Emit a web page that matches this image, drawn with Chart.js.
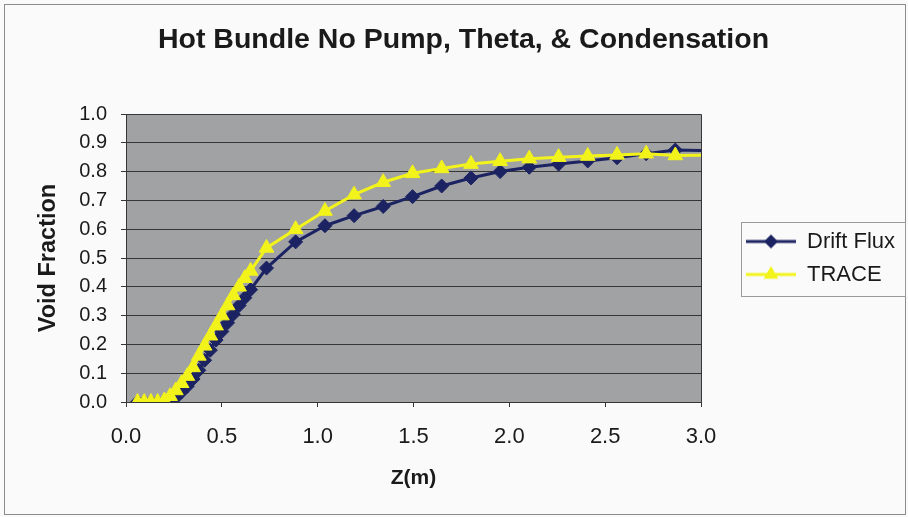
<!DOCTYPE html>
<html>
<head>
<meta charset="utf-8">
<script src="https://cdn.jsdelivr.net/npm/chart.js@4/dist/chart.umd.min.js"></script>
<style>
  html, body { margin: 0; padding: 0; background: #fafafa; }
  #wrap { width: 908px; height: 517px; position: relative; }
</style>
</head>
<body>
<div id="wrap"><canvas id="c" width="908" height="517"></canvas></div>
<script>
// ---- data ----
const zPositions = [0.06, 0.095, 0.13, 0.165, 0.20, 0.23, 0.26, 0.29, 0.32, 0.35,
                    0.38, 0.41, 0.44, 0.47, 0.50, 0.53, 0.56, 0.59, 0.62, 0.65,
                    0.733, 0.885, 1.038, 1.19, 1.342, 1.495, 1.647, 1.80, 1.952, 2.104,
                    2.257, 2.409, 2.562, 2.714, 2.866, 3.019];
const driftFlux = [0, 0, 0, 0, 0, 0.005, 0.015, 0.035, 0.055, 0.08,
                   0.11, 0.145, 0.18, 0.215, 0.245, 0.275, 0.305, 0.335, 0.362, 0.39,
                   0.465, 0.556, 0.612, 0.647, 0.679, 0.713, 0.75, 0.778, 0.80, 0.815,
                   0.826, 0.837, 0.848, 0.862, 0.875, 0.873];
const traceVoid = [0, 0, 0, 0, 0.005, 0.02, 0.04, 0.065, 0.09, 0.12,
                   0.16, 0.195, 0.23, 0.265, 0.30, 0.335, 0.37, 0.40, 0.43, 0.455,
                   0.535, 0.60, 0.663, 0.72, 0.763, 0.794, 0.811, 0.826, 0.836, 0.845,
                   0.85, 0.854, 0.858, 0.862, 0.856, 0.857];
const seriesNames = ['Drift Flux', 'TRACE'];
const chartTitle = 'Hot Bundle No Pump, Theta, & Condensation';
const xAxisTitle = 'Z(m)';
const yAxisTitle = 'Void Fraction';

// ---- styles ----
const NAVY = '#1c2362';
const YELLOW = '#f3f31c';
const TEXT = '#1a1a1a';
const PLOT_BG = '#a0a2a4';
const GRID = '#363636';
const FONT = "'Liberation Sans', Arial, sans-serif";

function makeIcon(color, shape) {
  const c = document.createElement('canvas');
  c.width = 84; c.height = 20;
  const g = c.getContext('2d');
  g.strokeStyle = color; g.lineWidth = 3;
  g.beginPath(); g.moveTo(34, 10); g.lineTo(84, 10); g.stroke();
  g.fillStyle = color;
  const cx = 59, cy = 10;
  g.beginPath();
  if (shape === 'diamond') {
    g.moveTo(cx, cy - 7); g.lineTo(cx + 7, cy); g.lineTo(cx, cy + 7); g.lineTo(cx - 7, cy);
  } else {
    const r = 8.5;
    g.moveTo(cx, cy - r); g.lineTo(cx + r * 0.866, cy + r / 2); g.lineTo(cx - r * 0.866, cy + r / 2);
  }
  g.closePath(); g.fill();
  return c;
}
const legendIcons = [makeIcon(NAVY, 'diamond'), makeIcon(YELLOW, 'triangle')];

const framePlugin = {
  id: 'frame',
  beforeDraw(chart) {
    const { ctx, chartArea: a } = chart;
    ctx.save();
    ctx.fillStyle = '#fafafa';
    ctx.fillRect(0, 0, chart.width, chart.height);
    ctx.strokeStyle = '#8c8c8c';
    ctx.lineWidth = 1;
    ctx.strokeRect(4.5, 4.5, chart.width - 7, chart.height - 7);
    ctx.fillStyle = PLOT_BG;
    ctx.fillRect(a.left, a.top, a.right - a.left, a.bottom - a.top);
    ctx.restore();
  },
  beforeDatasetsDraw(chart) {
    const { ctx, chartArea: a } = chart;
    ctx.save();
    ctx.strokeStyle = GRID;
    ctx.lineWidth = 1;
    ctx.beginPath();
    ctx.moveTo(a.left, Math.round(a.top) + 0.5);
    ctx.lineTo(Math.round(a.right) + 0.5, Math.round(a.top) + 0.5);
    ctx.lineTo(Math.round(a.right) + 0.5, a.bottom);
    ctx.stroke();
    ctx.restore();
  },
  afterDraw(chart) {
    const L = chart.legend;
    if (!L || !L.legendHitBoxes || !L.legendHitBoxes.length) return;
    const hb = L.legendHitBoxes;
    const ctx = chart.ctx;
    const x0 = hb[0].left + 29;
    const y0 = hb[0].top - 9;
    const last = hb[hb.length - 1];
    const y1 = last.top + last.height + 10;
    const x1 = chart.width - 3;
    ctx.save();
    ctx.strokeStyle = '#9a9a9a';
    ctx.lineWidth = 1;
    ctx.strokeRect(Math.round(x0) + 0.5, Math.round(y0) + 0.5, Math.round(x1 - x0), Math.round(y1 - y0));
    ctx.restore();
  }
};

const lastIdx = zPositions.length - 1;

new Chart(document.getElementById('c'), {
  type: 'line',
  data: {
    datasets: [
      {
        label: seriesNames[0],
        data: zPositions.map((z, i) => ({ x: z, y: driftFlux[i] })),
        borderColor: NAVY,
        backgroundColor: NAVY,
        borderWidth: 3,
        pointStyle: 'rectRot',
        pointRadius: (ctx) => ctx.dataIndex === lastIdx ? 0 : 7,
        pointBorderWidth: 1,
        pointBorderColor: NAVY,
        pointBackgroundColor: NAVY,
        tension: 0,
        order: 1
      },
      {
        label: seriesNames[1],
        data: zPositions.map((z, i) => ({ x: z, y: traceVoid[i] })),
        borderColor: YELLOW,
        backgroundColor: YELLOW,
        borderWidth: 3,
        pointStyle: 'triangle',
        pointRadius: (ctx) => ctx.dataIndex === lastIdx ? 0 : 8.5,
        pointBorderWidth: 1,
        pointBorderColor: YELLOW,
        pointBackgroundColor: YELLOW,
        tension: 0,
        order: 0
      }
    ]
  },
  options: {
    responsive: false,
    animation: false,
    devicePixelRatio: 1,
    layout: { padding: { left: 22, right: 3, top: 0, bottom: 0 } },
    plugins: {
      tooltip: { enabled: false },
      title: {
        display: true,
        text: chartTitle,
        color: TEXT,
        font: { family: FONT, size: 28.5, weight: 'bold' },
        padding: { top: 23, bottom: 56.8 }
      },
      legend: {
        display: true,
        position: 'right',
        align: 'center',
        fullSize: false,
        labels: {
          sort: (a, b) => a.datasetIndex - b.datasetIndex,
          usePointStyle: true,
          pointStyleWidth: 84,
          padding: 11,
          color: TEXT,
          font: { family: FONT, size: 22 },
          generateLabels(chart) {
            const items = Chart.defaults.plugins.legend.labels.generateLabels(chart);
            items.forEach(it => { it.pointStyle = legendIcons[it.datasetIndex]; });
            items.sort((a, b) => a.datasetIndex - b.datasetIndex);
            return items;
          }
        }
      }
    },
    scales: {
      x: {
        type: 'linear',
        min: 0, max: 3,
        afterFit(s) { s.height = 115; },
        ticks: {
          stepSize: 0.5,
          autoSkip: false,
          maxRotation: 0,
          padding: 17,
          color: TEXT,
          font: { family: FONT, size: 22 },
          callback: (v) => Number(v).toFixed(1)
        },
        grid: { drawOnChartArea: false, drawTicks: true, tickLength: 5, color: GRID, lineWidth: 1 },
        border: { display: true, color: GRID, width: 1 },
        title: {
          display: true,
          text: xAxisTitle,
          color: TEXT,
          font: { family: FONT, size: 21, weight: 'bold' },
          padding: { top: 0, bottom: 26 }
        }
      },
      y: {
        type: 'linear',
        min: 0, max: 1,
        afterFit(s) { s.width = 104; },
        ticks: {
          stepSize: 0.1,
          padding: 14,
          color: TEXT,
          font: { family: FONT, size: 20 },
          callback: (v) => Number(v).toFixed(1)
        },
        grid: { drawOnChartArea: true, drawTicks: true, tickLength: 5, color: GRID, lineWidth: 1 },
        border: { display: true, color: GRID, width: 1 },
        title: {
          display: true,
          text: yAxisTitle,
          color: TEXT,
          font: { family: FONT, size: 23.5, weight: 'bold' },
          padding: { top: 12, bottom: 0 }
        }
      }
    }
  },
  plugins: [framePlugin]
});
</script>
</body>
</html>
